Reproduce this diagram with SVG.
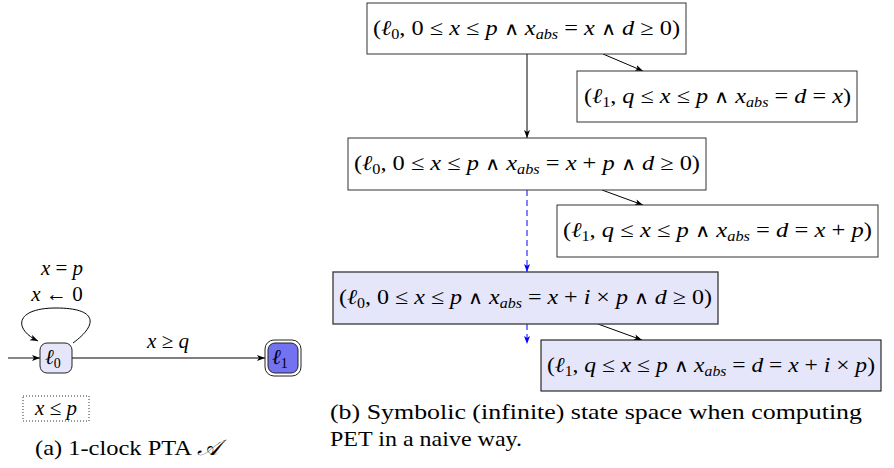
<svg xmlns="http://www.w3.org/2000/svg" width="894" height="468" viewBox="0 0 894 468">
<style>
.m{font-family:"Liberation Serif","DejaVu Serif",serif;font-size:21px;fill:#000}
.i{font-style:italic}
.s{font-size:14px;font-style:italic}
.b{font-size:14px}
.w{font-family:"DejaVu Sans",sans-serif;font-weight:200;font-size:18px}
.box{fill:#fff;stroke:#333;stroke-width:1}
.boxf{fill:#e6e6fa;stroke:#444;stroke-width:1.4}
.e{fill:none;stroke:#000;stroke-width:1}
.g{fill:none;stroke:#555;stroke-width:1.4}
.d{fill:none;stroke:#00f;stroke-width:1;stroke-dasharray:6,4}
.cap{font-family:"Liberation Serif","DejaVu Serif",serif;font-size:22px;fill:#000}
</style>
<defs>
<marker id="ak" markerUnits="userSpaceOnUse" markerWidth="10" markerHeight="8" refX="8" refY="3" orient="auto"><path d="M0,0 L8,3 L0,6 L2,3 z" fill="#000"/></marker>
<marker id="ab" markerUnits="userSpaceOnUse" markerWidth="10" markerHeight="8" refX="8" refY="3" orient="auto"><path d="M0,0 L8,3 L0,6 L2,3 z" fill="#00f"/></marker>
</defs>

<g id="connectors">
<line class="g" x1="8" y1="358" x2="40" y2="358" marker-end="url(#ak)"/>
<line class="g" x1="72" y1="358" x2="265" y2="358" marker-end="url(#ak)"/>
<path class="e" d="M73,343 C99,324 97,308 56,308 C15,308 13,329 38,341" marker-end="url(#ak)"/>
<line class="e" x1="527" y1="54" x2="527" y2="138" marker-end="url(#ak)"/>
<line class="e" x1="603" y1="54" x2="643" y2="71" marker-end="url(#ak)"/>
<line class="e" x1="602" y1="190" x2="643" y2="205" marker-end="url(#ak)"/>
<line class="d" x1="527" y1="190" x2="527" y2="272" marker-end="url(#ab)"/>
<line class="e" x1="598" y1="324" x2="642" y2="340" marker-end="url(#ak)"/>
<line class="d" x1="527" y1="324" x2="527" y2="344" marker-end="url(#ab)"/>
</g>

<g id="loop-label">
<text class="m" x="62" y="275" text-anchor="middle"><tspan class="i">x</tspan> = <tspan class="i">p</tspan></text>
<text class="m" x="57" y="301" text-anchor="middle"><tspan class="i">x</tspan> ← 0</text>
</g>
<g id="edge-label">
<text class="m" x="168" y="348" text-anchor="middle"><tspan class="i">x</tspan> ≥ <tspan class="i">q</tspan></text>
</g>

<g id="l0">
<rect x="40" y="343" width="32" height="30" rx="7" fill="#e6e6fa" stroke="#222" stroke-width="1"/>
<text class="m" x="45" y="364"><tspan class="i">ℓ</tspan><tspan class="b" dy="4">0</tspan></text>
</g>
<g id="l1">
<rect x="265" y="340" width="36" height="36" rx="9" fill="#fff" stroke="#222" stroke-width="1"/>
<rect x="268" y="343" width="30" height="30" rx="7" fill="#7373f2" stroke="#222" stroke-width="1"/>
<text class="m" x="272" y="364"><tspan class="i">ℓ</tspan><tspan class="b" dy="4">1</tspan></text>
</g>
<g id="invariant">
<rect x="23" y="396" width="66" height="25" fill="none" stroke="#333" stroke-width="1" stroke-dasharray="1,2"/>
<text class="m" x="56" y="415" text-anchor="middle"><tspan class="i">x</tspan> ≤ <tspan class="i">p</tspan></text>
</g>

<g id="s1">
<rect class="box" x="367" y="3" width="319" height="51"/>
<text class="m" x="373" y="35" textLength="307" lengthAdjust="spacingAndGlyphs">(<tspan class="i">ℓ</tspan><tspan class="b" dy="4">0</tspan><tspan dy="-4">, 0 ≤ </tspan><tspan class="i">x</tspan> ≤ <tspan class="i">p</tspan> <tspan class="w">∧</tspan> <tspan class="i">x</tspan><tspan class="s" dy="4">abs</tspan><tspan dy="-4"> = </tspan><tspan class="i">x</tspan> <tspan class="w">∧</tspan> <tspan class="i">d</tspan> ≥ 0)</text>
</g>
<g id="s2">
<rect class="box" x="577" y="71" width="280" height="51"/>
<text class="m" x="584" y="103" textLength="267" lengthAdjust="spacingAndGlyphs">(<tspan class="i">ℓ</tspan><tspan class="b" dy="4">1</tspan><tspan dy="-4">, </tspan><tspan class="i">q</tspan> ≤ <tspan class="i">x</tspan> ≤ <tspan class="i">p</tspan> <tspan class="w">∧</tspan> <tspan class="i">x</tspan><tspan class="s" dy="4">abs</tspan><tspan dy="-4"> = </tspan><tspan class="i">d</tspan> = <tspan class="i">x</tspan>)</text>
</g>
<g id="s3">
<rect class="box" x="348" y="138" width="358" height="52"/>
<text class="m" x="354" y="170" textLength="346" lengthAdjust="spacingAndGlyphs">(<tspan class="i">ℓ</tspan><tspan class="b" dy="4">0</tspan><tspan dy="-4">, 0 ≤ </tspan><tspan class="i">x</tspan> ≤ <tspan class="i">p</tspan> <tspan class="w">∧</tspan> <tspan class="i">x</tspan><tspan class="s" dy="4">abs</tspan><tspan dy="-4"> = </tspan><tspan class="i">x</tspan> + <tspan class="i">p</tspan> <tspan class="w">∧</tspan> <tspan class="i">d</tspan> ≥ 0)</text>
</g>
<g id="s4">
<rect class="box" x="557" y="205" width="321" height="52"/>
<text class="m" x="563" y="237" textLength="309" lengthAdjust="spacingAndGlyphs">(<tspan class="i">ℓ</tspan><tspan class="b" dy="4">1</tspan><tspan dy="-4">, </tspan><tspan class="i">q</tspan> ≤ <tspan class="i">x</tspan> ≤ <tspan class="i">p</tspan> <tspan class="w">∧</tspan> <tspan class="i">x</tspan><tspan class="s" dy="4">abs</tspan><tspan dy="-4"> = </tspan><tspan class="i">d</tspan> = <tspan class="i">x</tspan> + <tspan class="i">p</tspan>)</text>
</g>
<g id="s5">
<rect class="boxf" x="333" y="272" width="385" height="52"/>
<text class="m" x="339" y="304" textLength="373" lengthAdjust="spacingAndGlyphs">(<tspan class="i">ℓ</tspan><tspan class="b" dy="4">0</tspan><tspan dy="-4">, 0 ≤ </tspan><tspan class="i">x</tspan> ≤ <tspan class="i">p</tspan> <tspan class="w">∧</tspan> <tspan class="i">x</tspan><tspan class="s" dy="4">abs</tspan><tspan dy="-4"> = </tspan><tspan class="i">x</tspan> + <tspan class="i">i</tspan> × <tspan class="i">p</tspan> <tspan class="w">∧</tspan> <tspan class="i">d</tspan> ≥ 0)</text>
</g>
<g id="s6">
<rect x="541" y="340" width="340" height="51" fill="#e6e6fa" stroke="#000" stroke-width="1"/>
<text class="m" x="547" y="372" textLength="328" lengthAdjust="spacingAndGlyphs">(<tspan class="i">ℓ</tspan><tspan class="b" dy="4">1</tspan><tspan dy="-4">, </tspan><tspan class="i">q</tspan> ≤ <tspan class="i">x</tspan> ≤ <tspan class="i">p</tspan> <tspan class="w">∧</tspan> <tspan class="i">x</tspan><tspan class="s" dy="4">abs</tspan><tspan dy="-4"> = </tspan><tspan class="i">d</tspan> = <tspan class="i">x</tspan> + <tspan class="i">i</tspan> × <tspan class="i">p</tspan>)</text>
</g>

<g id="captions">
<text class="cap" x="35" y="455" textLength="185" lengthAdjust="spacingAndGlyphs">(a) 1-clock PTA <tspan font-style="italic">𝒜</tspan></text>
<text class="cap" x="330" y="419" textLength="532" lengthAdjust="spacingAndGlyphs">(b) Symbolic (infinite) state space when computing</text>
<text class="cap" x="330" y="446" textLength="192" lengthAdjust="spacingAndGlyphs">PET in a naive way.</text>
</g>
</svg>
